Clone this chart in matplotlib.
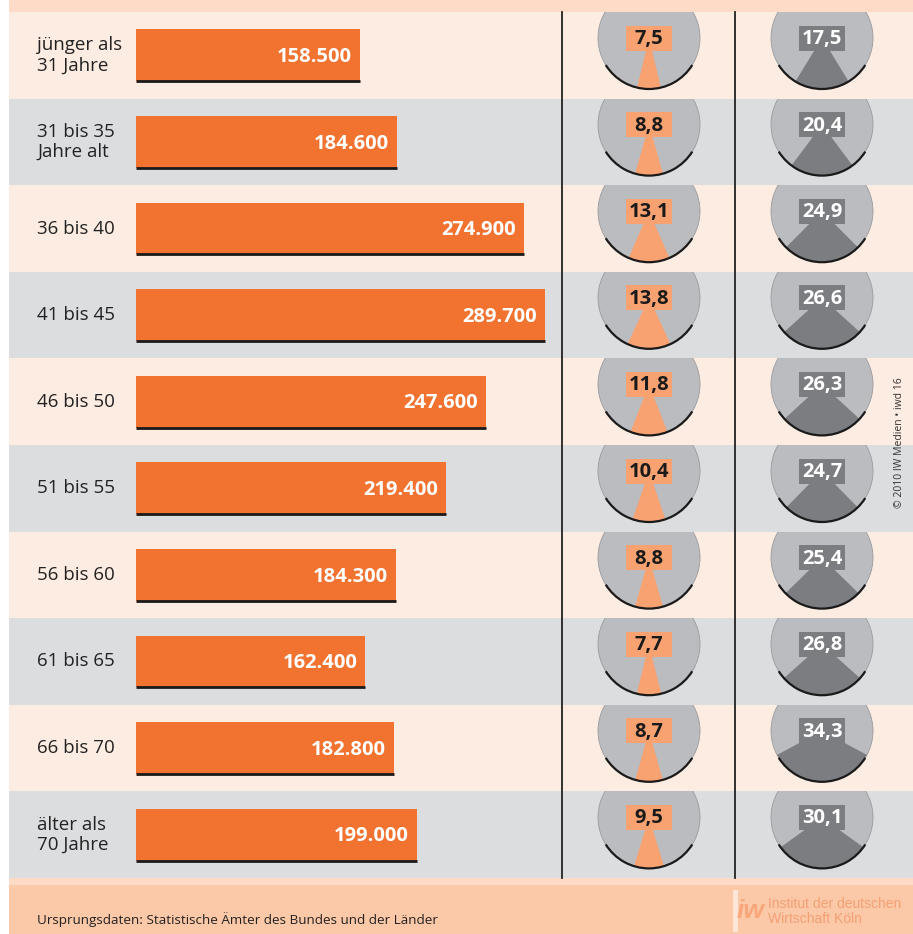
import numpy as np
import matplotlib
matplotlib.use('Agg')
import matplotlib.pyplot as plt
from matplotlib.patches import Rectangle, Wedge, Arc, Circle

# data
labels = ['jünger als\n31 Jahre', '31 bis 35\nJahre alt', '36 bis 40', '41 bis 45', '46 bis 50',
          '51 bis 55', '56 bis 60', '61 bis 65', '66 bis 70', 'älter als\n70 Jahre']
values = [158500, 184600, 274900, 289700, 247600, 219400, 184300, 162400, 182800, 199000]
share1 = [7.5, 8.8, 13.1, 13.8, 11.8, 10.4, 8.8, 7.7, 8.7, 9.5]
share2 = [17.5, 20.4, 24.9, 26.6, 26.3, 24.7, 25.4, 26.8, 34.3, 30.1]

ORANGE = '#f2722f'
PEACH = '#fdece1'
GREY_ROW = '#dcdddf'
PIE_GREY = '#bbbcc0'
PIE_ORANGE = '#f8a272'
PIE_DARK = '#7c7d81'
FOOT = '#fbc8a8'
FOOT_LIGHT = '#fddbc7'

plt.rcParams['font.family'] = ['Open Sans', 'DejaVu Sans']

W, H = 913, 934
fig = plt.figure(figsize=(W / 100, H / 100), dpi=100)

# background axes in pixel coordinates
bg = fig.add_axes([0, 0, 1, 1])
bg.set_xlim(0, W)
bg.set_ylim(H, 0)
bg.axis('off')

top, bottom = 12, 878
n = len(values)
rh = (bottom - top) / n

bg.add_patch(Rectangle((9, 0), W - 9, top, color=FOOT_LIGHT, lw=0))
for i in range(n):
    bg.add_patch(Rectangle((9, top + i * rh), W - 9, rh,
                           color=PEACH if i % 2 == 0 else GREY_ROW, lw=0))
bg.add_patch(Rectangle((9, bottom), W - 9, 7, color=FOOT_LIGHT, lw=0))
bg.add_patch(Rectangle((9, bottom + 7), W - 9, H - bottom - 7, color=FOOT, lw=0))

for x in (562, 735):
    bg.plot([x, x], [top, bottom], color='#222222', lw=1.3)

for i, lab in enumerate(labels):
    bg.text(37, top + (i + 0.5) * rh, lab, fontsize=13.5, color='#222222',
            va='center', ha='left', linespacing=1.15)

# pies
r = 51
for col, (cx, shares, wc, tc) in enumerate([(649, share1, PIE_ORANGE, '#1a1a1a'),
                                             (822, share2, PIE_DARK, 'white')]):
    for i, s in enumerate(shares):
        cy = top + i * rh + 26
        clip = Rectangle((9, top + i * rh), W, rh, transform=bg.transData)
        half = s * 3.6 / 2
        parts = [Circle((cx, cy), r, fc=PIE_GREY, ec='#9a9b9f', lw=0.6),
                 Wedge((cx, cy), r, 90 - half, 90 + half, color=wc, lw=0),
                 Arc((cx, cy), 2 * r, 2 * r, theta1=32, theta2=148, color='#1a1a1a', lw=1.6)]
        for p in parts:
            bg.add_patch(p)
            p.set_clip_path(clip)
        bg.add_patch(Rectangle((cx - 23, cy - 12.5), 46, 25, color=wc, lw=0))
        bg.text(cx, cy + 1, f'{s:.1f}'.replace('.', ','), fontsize=14.5, fontweight='bold',
                color=tc, ha='center', va='center')

# bars
ax = fig.add_axes([136 / W, 1 - bottom / H, (562 - 136) / W, (bottom - top) / H])
ax.patch.set_alpha(0)
y = np.arange(n)
ax.barh(y, values, height=0.6, color=ORANGE, lw=0)
ax.hlines(y + 0.3, 0, values, color='#1a1a1a', lw=2)
ax.set_xlim(0, 426 / (409 / 289700))
ax.set_ylim(n - 0.5, -0.5)
ax.axis('off')
px = ax.get_xlim()[1] / 426
for i, v in enumerate(values):
    ax.text(v - 8 * px, i + 0.02, f'{v:,}'.replace(',', '.'), color='white', fontsize=14.5,
            fontweight='bold', ha='right', va='center')

# footer
bg.text(37, 920, 'Ursprungsdaten: Statistische Ämter des Bundes und der Länder',
        fontsize=9.7, color='#222222', va='center')
bg.add_patch(Rectangle((733, 890), 5, 42, color='#fde6d8', lw=0))
bg.text(750, 911, 'iw', fontsize=19, fontweight='bold', style='italic', color='#f7a77a',
        ha='center', va='center', family='Liberation Sans')
bg.text(768, 904, 'Institut der deutschen', fontsize=10, color='#f4a074',
        va='center', family='Liberation Sans')
bg.text(768, 919, 'Wirtschaft Köln', fontsize=10, color='#f4a074',
        va='center', family='Liberation Sans')
bg.text(899, 443, '© 2010 IW Medien • iwd 16', fontsize=7.5, color='#333333',
        rotation=90, ha='center', va='center')

fig.savefig('out.png', dpi=100)
